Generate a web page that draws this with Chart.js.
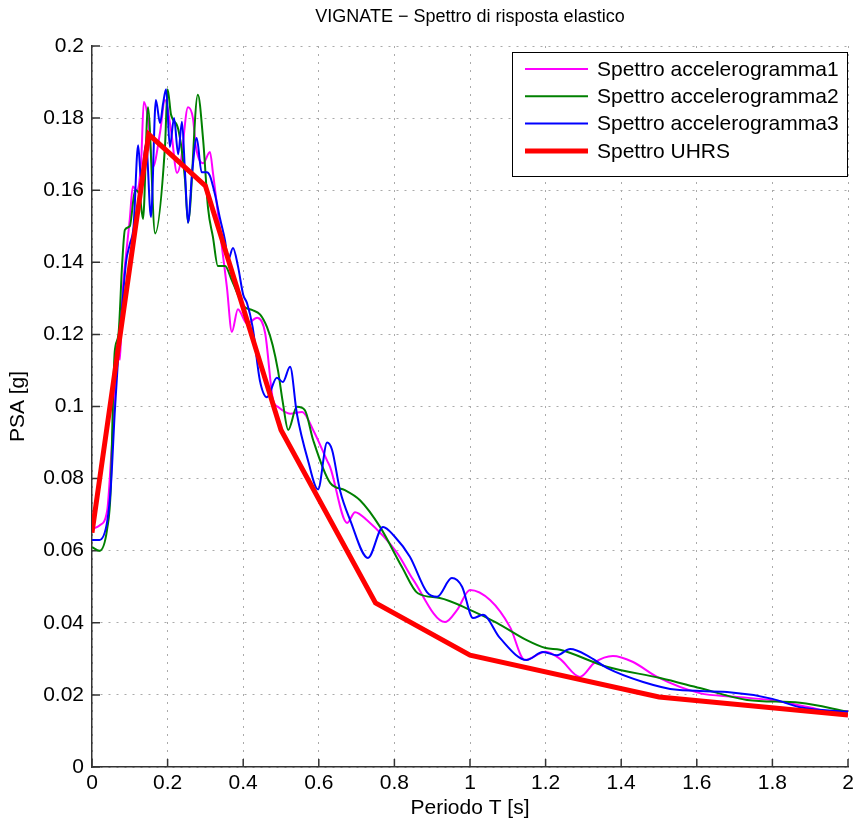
<!DOCTYPE html>
<html>
<head>
<meta charset="utf-8">
<script src="https://cdn.jsdelivr.net/npm/chart.js@4.4.1/dist/chart.umd.min.js"></script>
<style>
  body { margin: 0; background: #fff; }
  canvas { display: block; }
</style>
</head>
<body>
<canvas id="myChart" width="858" height="824"></canvas>
<script>
// spectra: period T [s] and PSA [g]
const periods1 = [0, 0.02, 0.04, 0.05, 0.06, 0.064, 0.074, 0.08, 0.09, 0.1, 0.108, 0.118, 0.13, 0.137, 0.148, 0.161, 0.18, 0.193, 0.209, 0.225, 0.235, 0.254, 0.267, 0.275, 0.294, 0.312, 0.32, 0.344, 0.357, 0.37, 0.386, 0.41, 0.437, 0.458, 0.479, 0.492, 0.524, 0.556, 0.585, 0.622, 0.63, 0.675, 0.696, 0.727, 0.807, 0.85, 0.934, 0.966, 1.0, 1.053, 1.106, 1.145, 1.2, 1.238, 1.291, 1.33, 1.378, 1.43, 1.495, 1.608, 1.7, 1.8, 1.9, 1.95, 2.0];
const psa1 = [0.066, 0.067, 0.071, 0.085, 0.103, 0.1165, 0.113, 0.13, 0.142, 0.152, 0.161, 0.16, 0.168, 0.1845, 0.18, 0.1664, 0.176, 0.185, 0.1767, 0.1648, 0.168, 0.183, 0.18, 0.172, 0.1675, 0.1706, 0.1648, 0.144, 0.133, 0.1207, 0.127, 0.123, 0.1246, 0.1204, 0.1018, 0.0999, 0.098, 0.0985, 0.0935, 0.085, 0.0832, 0.0677, 0.0707, 0.0685, 0.0594, 0.0519, 0.0402, 0.0436, 0.0491, 0.0463, 0.0388, 0.0297, 0.032, 0.030, 0.025, 0.029, 0.0308, 0.0292, 0.025, 0.0205, 0.0195, 0.0185, 0.0165, 0.0155, 0.0155];

const periods2 = [0, 0.02, 0.04, 0.05, 0.055, 0.06, 0.07, 0.08, 0.087, 0.1, 0.114, 0.127, 0.135, 0.148, 0.167, 0.193, 0.2, 0.209, 0.228, 0.246, 0.254, 0.28, 0.294, 0.307, 0.32, 0.333, 0.352, 0.37, 0.4, 0.423, 0.445, 0.463, 0.478, 0.492, 0.505, 0.519, 0.542, 0.563, 0.585, 0.63, 0.669, 0.709, 0.762, 0.82, 0.862, 0.92, 1.0, 1.071, 1.15, 1.2, 1.238, 1.362, 1.503, 1.608, 1.733, 1.873, 2.0];
const psa2 = [0.061, 0.06, 0.066, 0.078, 0.1, 0.115, 0.12, 0.14, 0.149, 0.15, 0.16, 0.158, 0.152, 0.183, 0.148, 0.172, 0.188, 0.181, 0.177, 0.163, 0.151, 0.1865, 0.174, 0.155, 0.147, 0.139, 0.139, 0.135, 0.128, 0.1268, 0.1255, 0.122, 0.117, 0.11, 0.101, 0.0935, 0.0999, 0.099, 0.0907, 0.0788, 0.0768, 0.074, 0.0666, 0.0555, 0.0482, 0.0469, 0.0436, 0.04, 0.0352, 0.033, 0.0325, 0.0278, 0.0247, 0.0219, 0.0186, 0.0178, 0.0153];

const periods3 = [0, 0.02, 0.04, 0.05, 0.06, 0.07, 0.08, 0.09, 0.1, 0.11, 0.122, 0.13, 0.143, 0.156, 0.169, 0.18, 0.188, 0.196, 0.206, 0.217, 0.228, 0.238, 0.246, 0.254, 0.265, 0.277, 0.29, 0.304, 0.312, 0.325, 0.339, 0.352, 0.36, 0.373, 0.386, 0.4, 0.41, 0.425, 0.444, 0.463, 0.489, 0.505, 0.524, 0.542, 0.571, 0.598, 0.622, 0.635, 0.656, 0.683, 0.73, 0.77, 0.8, 0.841, 0.886, 0.913, 0.952, 0.979, 1.008, 1.034, 1.079, 1.15, 1.193, 1.23, 1.265, 1.317, 1.362, 1.458, 1.548, 1.68, 1.8, 1.873, 2.0];
const psa3 = [0.063, 0.063, 0.068, 0.078, 0.098, 0.115, 0.128, 0.14, 0.145, 0.15, 0.1725, 0.163, 0.173, 0.1526, 0.185, 0.1786, 0.184, 0.188, 0.172, 0.18, 0.17, 0.179, 0.165, 0.151, 0.165, 0.1745, 0.165, 0.165, 0.164, 0.159, 0.152, 0.146, 0.1406, 0.144, 0.139, 0.131, 0.1287, 0.122, 0.1073, 0.1026, 0.108, 0.1068, 0.111, 0.098, 0.0852, 0.077, 0.09, 0.088, 0.0768, 0.0685, 0.058, 0.0666, 0.064, 0.0583, 0.0485, 0.0472, 0.0524, 0.05, 0.0413, 0.0422, 0.0358, 0.0297, 0.0319, 0.031, 0.0327, 0.0305, 0.0275, 0.0236, 0.0214, 0.0208, 0.0189, 0.0166, 0.0153];

const periodsUHRS = [0, 0.15, 0.3, 0.5, 0.75, 1.0, 1.5, 2.0];
const psaUHRS = [0.065, 0.1755, 0.1612, 0.0935, 0.0455, 0.031, 0.0194, 0.0144];

const seriesNames = ["Spettro accelerogramma1", "Spettro accelerogramma2", "Spettro accelerogramma3", "Spettro UHRS"];
const seriesColors = ["#ff00ff", "#008000", "#0000ff", "#ff0000"];

const xTicks = { min: 0, max: 2, step: 0.2 };
const yTicks = { min: 0, max: 0.2, step: 0.02 };

const FONT = "'Liberation Sans', Arial, Helvetica, sans-serif";

function pts(ts, vs) {
  return ts.map((t, i) => ({ x: t, y: vs[i] }));
}
const fmt = (v) => String(+Number(v).toFixed(2));

// MATLAB style inward tick marks
const innerTicks = {
  id: "innerTicks",
  beforeDatasetsDraw(chart) {
    const { ctx, chartArea: a, scales } = chart;
    ctx.save();
    ctx.strokeStyle = "#333";
    ctx.lineWidth = 1.5;
    ctx.beginPath();
    scales.x.ticks.forEach((t) => {
      const px = scales.x.getPixelForValue(t.value);
      ctx.moveTo(px, a.bottom);
      ctx.lineTo(px, a.bottom - 8);
    });
    scales.y.ticks.forEach((t) => {
      const py = scales.y.getPixelForValue(t.value);
      ctx.moveTo(a.left, py);
      ctx.lineTo(a.left + 8, py);
    });
    ctx.stroke();
    ctx.restore();
  },
};

// boxed legend in the upper right corner
const boxLegend = {
  id: "boxLegend",
  afterDraw(chart) {
    const { ctx, chartArea: a } = chart;
    const w = 335, h = 124;
    const left = a.right - w - 1;
    const top = a.top + 6;
    ctx.save();
    ctx.fillStyle = "#fff";
    ctx.fillRect(left, top, w, h);
    ctx.strokeStyle = "#000";
    ctx.lineWidth = 1;
    ctx.strokeRect(left + 0.5, top + 0.5, w, h);
    ctx.font = "21px " + FONT;
    ctx.textBaseline = "middle";
    ctx.fillStyle = "#000";
    chart.data.datasets.forEach((ds, i) => {
      const y = top + 17 + i * 27.3;
      ctx.strokeStyle = ds.borderColor;
      ctx.lineWidth = ds.borderWidth;
      ctx.beginPath();
      ctx.moveTo(left + 13, y);
      ctx.lineTo(left + 76, y);
      ctx.stroke();
      ctx.fillText(ds.label, left + 85, y + 1);
    });
    ctx.restore();
  },
};

const datasets = [
  { data: pts(periods1, psa1), order: 3 },
  { data: pts(periods2, psa2), order: 2 },
  { data: pts(periods3, psa3), order: 1 },
  { data: pts(periodsUHRS, psaUHRS), order: 0 },
].map((d, i) => ({
  label: seriesNames[i],
  data: d.data,
  order: d.order,
  borderColor: seriesColors[i],
  backgroundColor: seriesColors[i],
  borderWidth: i === 3 ? 5 : 2,
  pointRadius: 0,
  fill: false,
  cubicInterpolationMode: i === 3 ? "default" : "monotone",
  tension: i === 3 ? 0 : 0.4,
}));

new Chart(document.getElementById("myChart"), {
  type: "line",
  data: { datasets },
  options: {
    responsive: false,
    animation: false,
    devicePixelRatio: 1,
    layout: { padding: { left: 0, right: 10, top: 0, bottom: 0 } },
    plugins: {
      legend: { display: false },
      tooltip: { enabled: false },
      title: {
        display: true,
        fullSize: false,
        text: "VIGNATE \u2212 Spettro di risposta elastico",
        color: "#000",
        font: { family: FONT, size: 18, weight: "normal" },
        padding: { top: 6, bottom: 18.4 },
      },
    },
    scales: {
      x: {
        type: "linear",
        min: xTicks.min,
        max: xTicks.max,
        afterFit: (s) => { s.height = 57; },
        ticks: {
          stepSize: xTicks.step,
          color: "#000",
          font: { family: FONT, size: 21 },
          padding: 4,
          maxRotation: 0,
          callback: fmt,
        },
        grid: { color: "#aaa", lineWidth: 1, drawTicks: false, borderDash: [2, 6] },
        border: { display: true, color: "#333", width: 1.5, dash: [2, 6] },
        title: {
          display: true,
          text: "Periodo T [s]",
          color: "#000",
          font: { family: FONT, size: 21 },
          padding: { top: 0, bottom: 3 },
        },
      },
      y: {
        type: "linear",
        min: yTicks.min,
        max: yTicks.max,
        afterFit: (s) => { s.width = 92; },
        ticks: {
          stepSize: yTicks.step,
          color: "#000",
          font: { family: FONT, size: 21 },
          padding: 8,
          callback: fmt,
        },
        grid: { color: "#aaa", lineWidth: 1, drawTicks: false, borderDash: [2, 6] },
        border: { display: true, color: "#333", width: 1.5, dash: [2, 6] },
        title: {
          display: true,
          text: "PSA [g]",
          color: "#000",
          font: { family: FONT, size: 21 },
          padding: { top: 6, bottom: 0 },
        },
      },
    },
  },
  plugins: [innerTicks, boxLegend],
});
</script>
</body>
</html>
